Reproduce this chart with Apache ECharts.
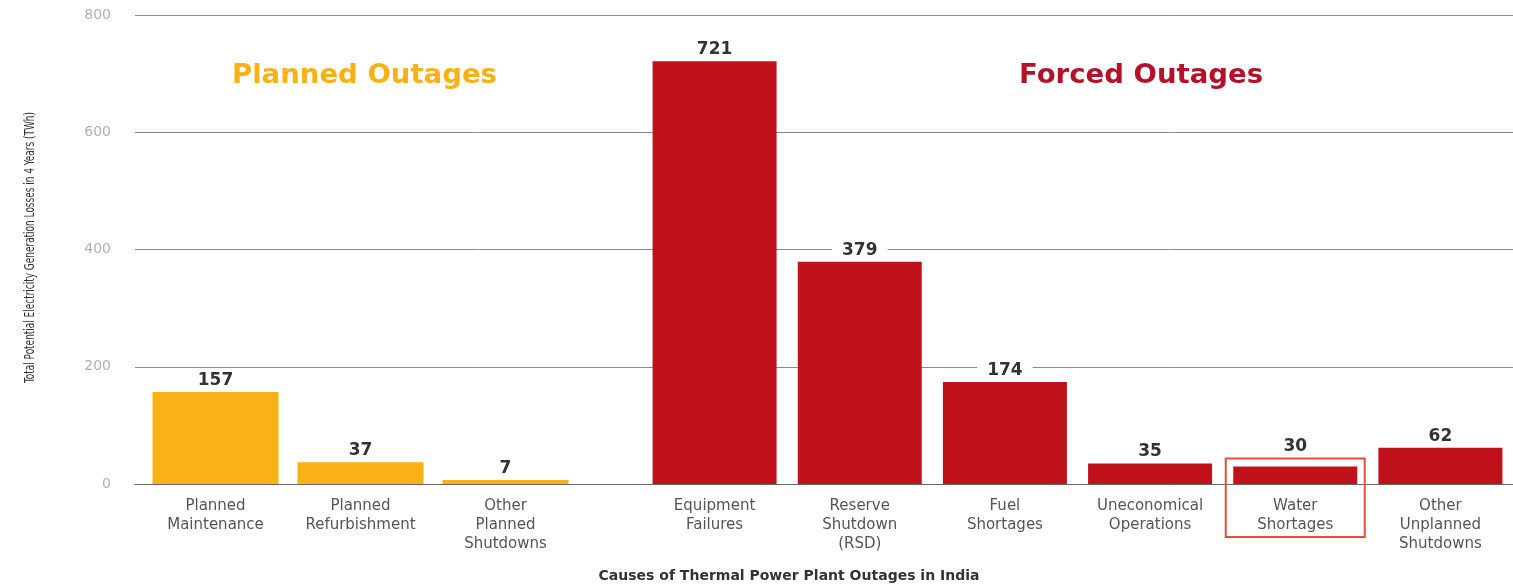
<!DOCTYPE html>
<html>
<head>
<meta charset="utf-8">
<title>Causes of Thermal Power Plant Outages in India</title>
<script src="https://cdn.jsdelivr.net/npm/echarts@6/dist/echarts.min.js"></script>
<style>
  html, body { margin: 0; padding: 0; background: #ffffff; }
  #chart { width: 1513px; height: 584px; }
</style>
</head>
<body>
<div id="chart"></div>
<script>
// Planned outage causes and their losses (TWh over 4 years)
const plannedCategories = ['Planned\nMaintenance', 'Planned\nRefurbishment', 'Other\nPlanned\nShutdowns'];
const plannedValues = [157, 37, 7];

// Forced outage causes and their losses (TWh over 4 years)
const forcedCategories = ['Equipment\nFailures', 'Reserve\nShutdown\n(RSD)', 'Fuel\nShortages',
  'Uneconomical\nOperations', 'Water\nShortages', 'Other\nUnplanned\nShutdowns'];
const forcedValues = [721, 379, 174, 35, 30, 62];

// Value axis range and step
const yMin = 0, yMax = 800, yStep = 200;

const highlightCategory = 'Water\nShortages';

const PLANNED_COLOR = '#F9B115';
const FORCED_COLOR = '#C1121C';
const LABEL_FONT = '"DejaVu Sans", sans-serif';

const chart = echarts.init(document.getElementById('chart'), null, { renderer: 'canvas' });

const valueLabel = {
  show: true,
  position: 'top',
  distance: 3,
  color: '#333333',
  fontFamily: LABEL_FONT,
  fontWeight: 'bold',
  fontSize: 17,
  backgroundColor: '#ffffff',
  padding: [1, 10, 0, 10]
};

const categoryLabel = {
  interval: 0,
  color: '#555555',
  fontFamily: LABEL_FONT,
  fontSize: 15,
  lineHeight: 19,
  margin: 13
};

const hiddenValueAxis = (gridIndex) => ({
  type: 'value', gridIndex, min: yMin, max: yMax, interval: yStep,
  axisLabel: { show: false }, axisLine: { show: false },
  axisTick: { show: false }, splitLine: { show: false }
});

const gridBox = (left, right) => ({ left, right, top: 15, bottom: 100, outerBoundsMode: 'none', containLabel: false });

const hiIndex = forcedCategories.indexOf(highlightCategory);

// The highlighted bar's value sits a little higher so it clears the outline box
const forcedData = forcedValues.map((v, i) =>
  i === hiIndex ? { value: v, label: { distance: 11 } } : v);

chart.setOption({
  animation: false,
  backgroundColor: '#ffffff',
  grid: [
    gridBox(135, 0),   // shared scale and gridlines
    gridBox(143, 935), // planned outages
    gridBox(642, 0)    // forced outages
  ],
  xAxis: [
    {
      type: 'category', gridIndex: 0, data: [''],
      axisLine: { show: true, lineStyle: { color: '#666666', width: 1 } },
      axisTick: { show: false }, axisLabel: { show: false },
      name: 'Causes of Thermal Power Plant Outages in India',
      nameLocation: 'middle', nameGap: 85,
      nameTextStyle: { color: '#333333', fontFamily: LABEL_FONT, fontWeight: 'bold', fontSize: 14, padding: [0, 70, 0, 0] }
    },
    {
      type: 'category', gridIndex: 1, data: plannedCategories,
      axisLine: { show: false }, axisTick: { show: false },
      axisLabel: categoryLabel
    },
    {
      type: 'category', gridIndex: 2, data: forcedCategories,
      axisLine: { show: false }, axisTick: { show: false },
      axisLabel: categoryLabel
    }
  ],
  yAxis: [
    {
      type: 'value', gridIndex: 0, min: yMin, max: yMax, interval: yStep,
      axisLine: { show: false }, axisTick: { show: false },
      axisLabel: { color: '#b0b0b0', fontFamily: LABEL_FONT, fontSize: 14, margin: 24 },
      splitLine: { show: true, lineStyle: { color: '#8a8a8a', width: 1 } }
    },
    hiddenValueAxis(1),
    hiddenValueAxis(2)
  ],
  series: [
    {
      name: 'Planned Outages', type: 'bar', xAxisIndex: 1, yAxisIndex: 1,
      data: plannedValues, barWidth: 126,
      itemStyle: { color: PLANNED_COLOR },
      label: valueLabel
    },
    {
      name: 'Forced Outages', type: 'bar', xAxisIndex: 2, yAxisIndex: 2,
      data: forcedData, barWidth: 124,
      itemStyle: { color: FORCED_COLOR },
      label: valueLabel
    }
  ]
});

// Group headings, condensed value-axis title and the outline around the highlighted category
const centre = chart.convertToPixel({ xAxisIndex: 2, yAxisIndex: 2 }, [hiIndex, forcedValues[hiIndex]]);
const zeroY = chart.convertToPixel({ yAxisIndex: 2 }, 0);
const axisTop = chart.convertToPixel({ yAxisIndex: 0 }, yMax);
const boxW = 139;
chart.setOption({
  graphic: [
    {
      type: 'text', x: 232, y: 76, scaleX: 1.02,
      style: { text: 'Planned Outages', fill: PLANNED_COLOR, font: 'bold 27px "DejaVu Sans", sans-serif', verticalAlign: 'middle' }
    },
    {
      type: 'text', x: 1019, y: 76, scaleX: 1.02,
      style: { text: 'Forced Outages', fill: '#B5122A', font: 'bold 27px "DejaVu Sans", sans-serif', verticalAlign: 'middle' }
    },
    {
      type: 'text', x: 30, y: (axisTop + zeroY) / 2 - 2, rotation: Math.PI / 2, scaleX: 0.71,
      style: {
        text: 'Total Potential Electricity Generation Losses in 4 Years (TWh)',
        fill: '#333333', font: '14px "DejaVu Sans Condensed", "DejaVu Sans", sans-serif',
        align: 'center', verticalAlign: 'middle'
      }
    },
    {
      type: 'rect', z: 10,
      shape: { x: centre[0] - boxW / 2, y: centre[1] - 8, width: boxW, height: zeroY + 53 - (centre[1] - 8) },
      style: { fill: 'none', stroke: '#E2503F', lineWidth: 2 }
    }
  ]
});
</script>
</body>
</html>
